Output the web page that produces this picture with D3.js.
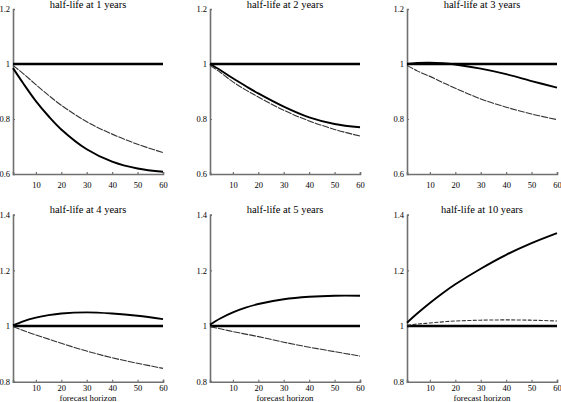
<!DOCTYPE html>
<html><head><meta charset="utf-8">
<script src="https://cdnjs.cloudflare.com/ajax/libs/d3/7.8.5/d3.min.js"></script>
<style>body{margin:0;background:#fff}svg{display:block}text{font-family:"Liberation Serif","Times New Roman",serif;fill:#000}</style>
</head><body><svg id="c" width="561" height="402"></svg>
<script>
const horizon = [1,5,10,15,20,30,40,50,60];
const xTicks = [10,20,30,40,50,60];
const titles = ["half-life at 1 years","half-life at 2 years","half-life at 3 years","half-life at 4 years","half-life at 5 years","half-life at 10 years"];
const baselineValue = 1;
const thick1 = [0.985,0.93,0.865,0.81,0.762,0.69,0.645,0.62,0.608];
const thin1  = [0.995,0.965,0.925,0.886,0.85,0.79,0.745,0.708,0.678];
const thick2 = [1.0,0.978,0.948,0.92,0.893,0.845,0.806,0.782,0.77];
const thin2  = [0.995,0.97,0.935,0.906,0.88,0.832,0.793,0.762,0.738];
const thick3 = [1.0,1.004,1.005,1.003,0.998,0.983,0.963,0.938,0.914];
const thin3  = [0.995,0.975,0.955,0.933,0.912,0.873,0.843,0.818,0.798];
const thick4 = [1.002,1.017,1.03,1.039,1.045,1.049,1.045,1.037,1.025];
const thin4  = [0.998,0.984,0.968,0.953,0.938,0.91,0.886,0.866,0.848];
const thick5 = [1.005,1.027,1.049,1.066,1.079,1.096,1.105,1.109,1.109];
const thin5  = [0.998,0.99,0.98,0.971,0.962,0.942,0.924,0.908,0.892];
const thick6 = [1.012,1.045,1.083,1.118,1.15,1.206,1.256,1.298,1.334];
const thin6  = [1.003,1.007,1.011,1.015,1.018,1.021,1.022,1.021,1.018];
const topTicks = [0.6,0.8,1,1.2];
const bottomTicks = [0.8,1,1.2,1.4];
const xLabel = "forecast horizon";

const thicks = [thick1,thick2,thick3,thick4,thick5,thick6];
const thins = [thin1,thin2,thin3,thin4,thin5,thin6];
const colX = [13,210,407];
const plotW = 150;
const rows = [{top:9,bottom:174,dom:[0.6,1.2],ticks:topTicks,titleY:8,tickY:187.5},
              {top:214.7,bottom:381.7,dom:[0.8,1.4],ticks:bottomTicks,titleY:212.5,tickY:391.5}];
const svg = d3.select("#c");
const fmt = v => (Math.round(v*10)/10).toString();

for (let i=0;i<6;i++){
  const r = rows[Math.floor(i/3)];
  const x0 = colX[i%3];
  const x = d3.scaleLinear().domain([1,60]).range([x0,x0+plotW]);
  const y = d3.scaleLinear().domain(r.dom).range([r.bottom,r.top]);
  const g = svg.append("g");
  const ax = g.append("g").attr("transform",`translate(0,${r.bottom})`)
    .call(d3.axisBottom(x).tickValues(xTicks).tickSize(-2).tickPadding(5).tickFormat(d3.format("d")));
  const ay = g.append("g").attr("transform",`translate(${x0},0)`)
    .call(d3.axisLeft(y).tickValues(r.ticks).tickSize(-2).tickPadding(3).tickFormat(fmt));
  [ax,ay].forEach(a=>{
    a.attr("font-family",null);
    a.select(".domain").attr("stroke","#707070").attr("stroke-width",1.6);
    a.selectAll(".tick line").attr("stroke","#707070").attr("stroke-width",1.2);
    a.selectAll("text").style("font-family","'Liberation Serif', serif").attr("font-size",8.5).attr("fill","#000");
  });
  ax.selectAll("text").attr("dy",null).attr("y",r.tickY-r.bottom);
  ay.selectAll("text").attr("dy","0.32em");
  g.append("path").datum([1,60])
    .attr("d",d3.line().x(d=>x(d)).y(()=>y(baselineValue)))
    .attr("fill","none").attr("stroke","#000").attr("stroke-width",2.6);
  const line = d3.line().x((d,j)=>x(horizon[j])).y(d=>y(d)).curve(d3.curveCatmullRom.alpha(0.5));
  g.append("path").datum(thins[i]).attr("d",line)
    .attr("fill","none").attr("stroke","#333").attr("stroke-width",1.1)
    .attr("stroke-dasharray", i===5 ? "4,1.5" : "7,1");
  g.append("path").datum(thicks[i]).attr("d",line)
    .attr("fill","none").attr("stroke","#000").attr("stroke-width",1.9);
  g.append("text").attr("x",x0+plotW/2).attr("y",r.titleY).attr("text-anchor","middle")
    .attr("font-size",10.5).text(titles[i]);
  if (i>=3) g.append("text").attr("x",x0+plotW/2).attr("y",400.5).attr("text-anchor","middle")
    .attr("font-size",8.8).text(xLabel);
}
</script></body></html>
